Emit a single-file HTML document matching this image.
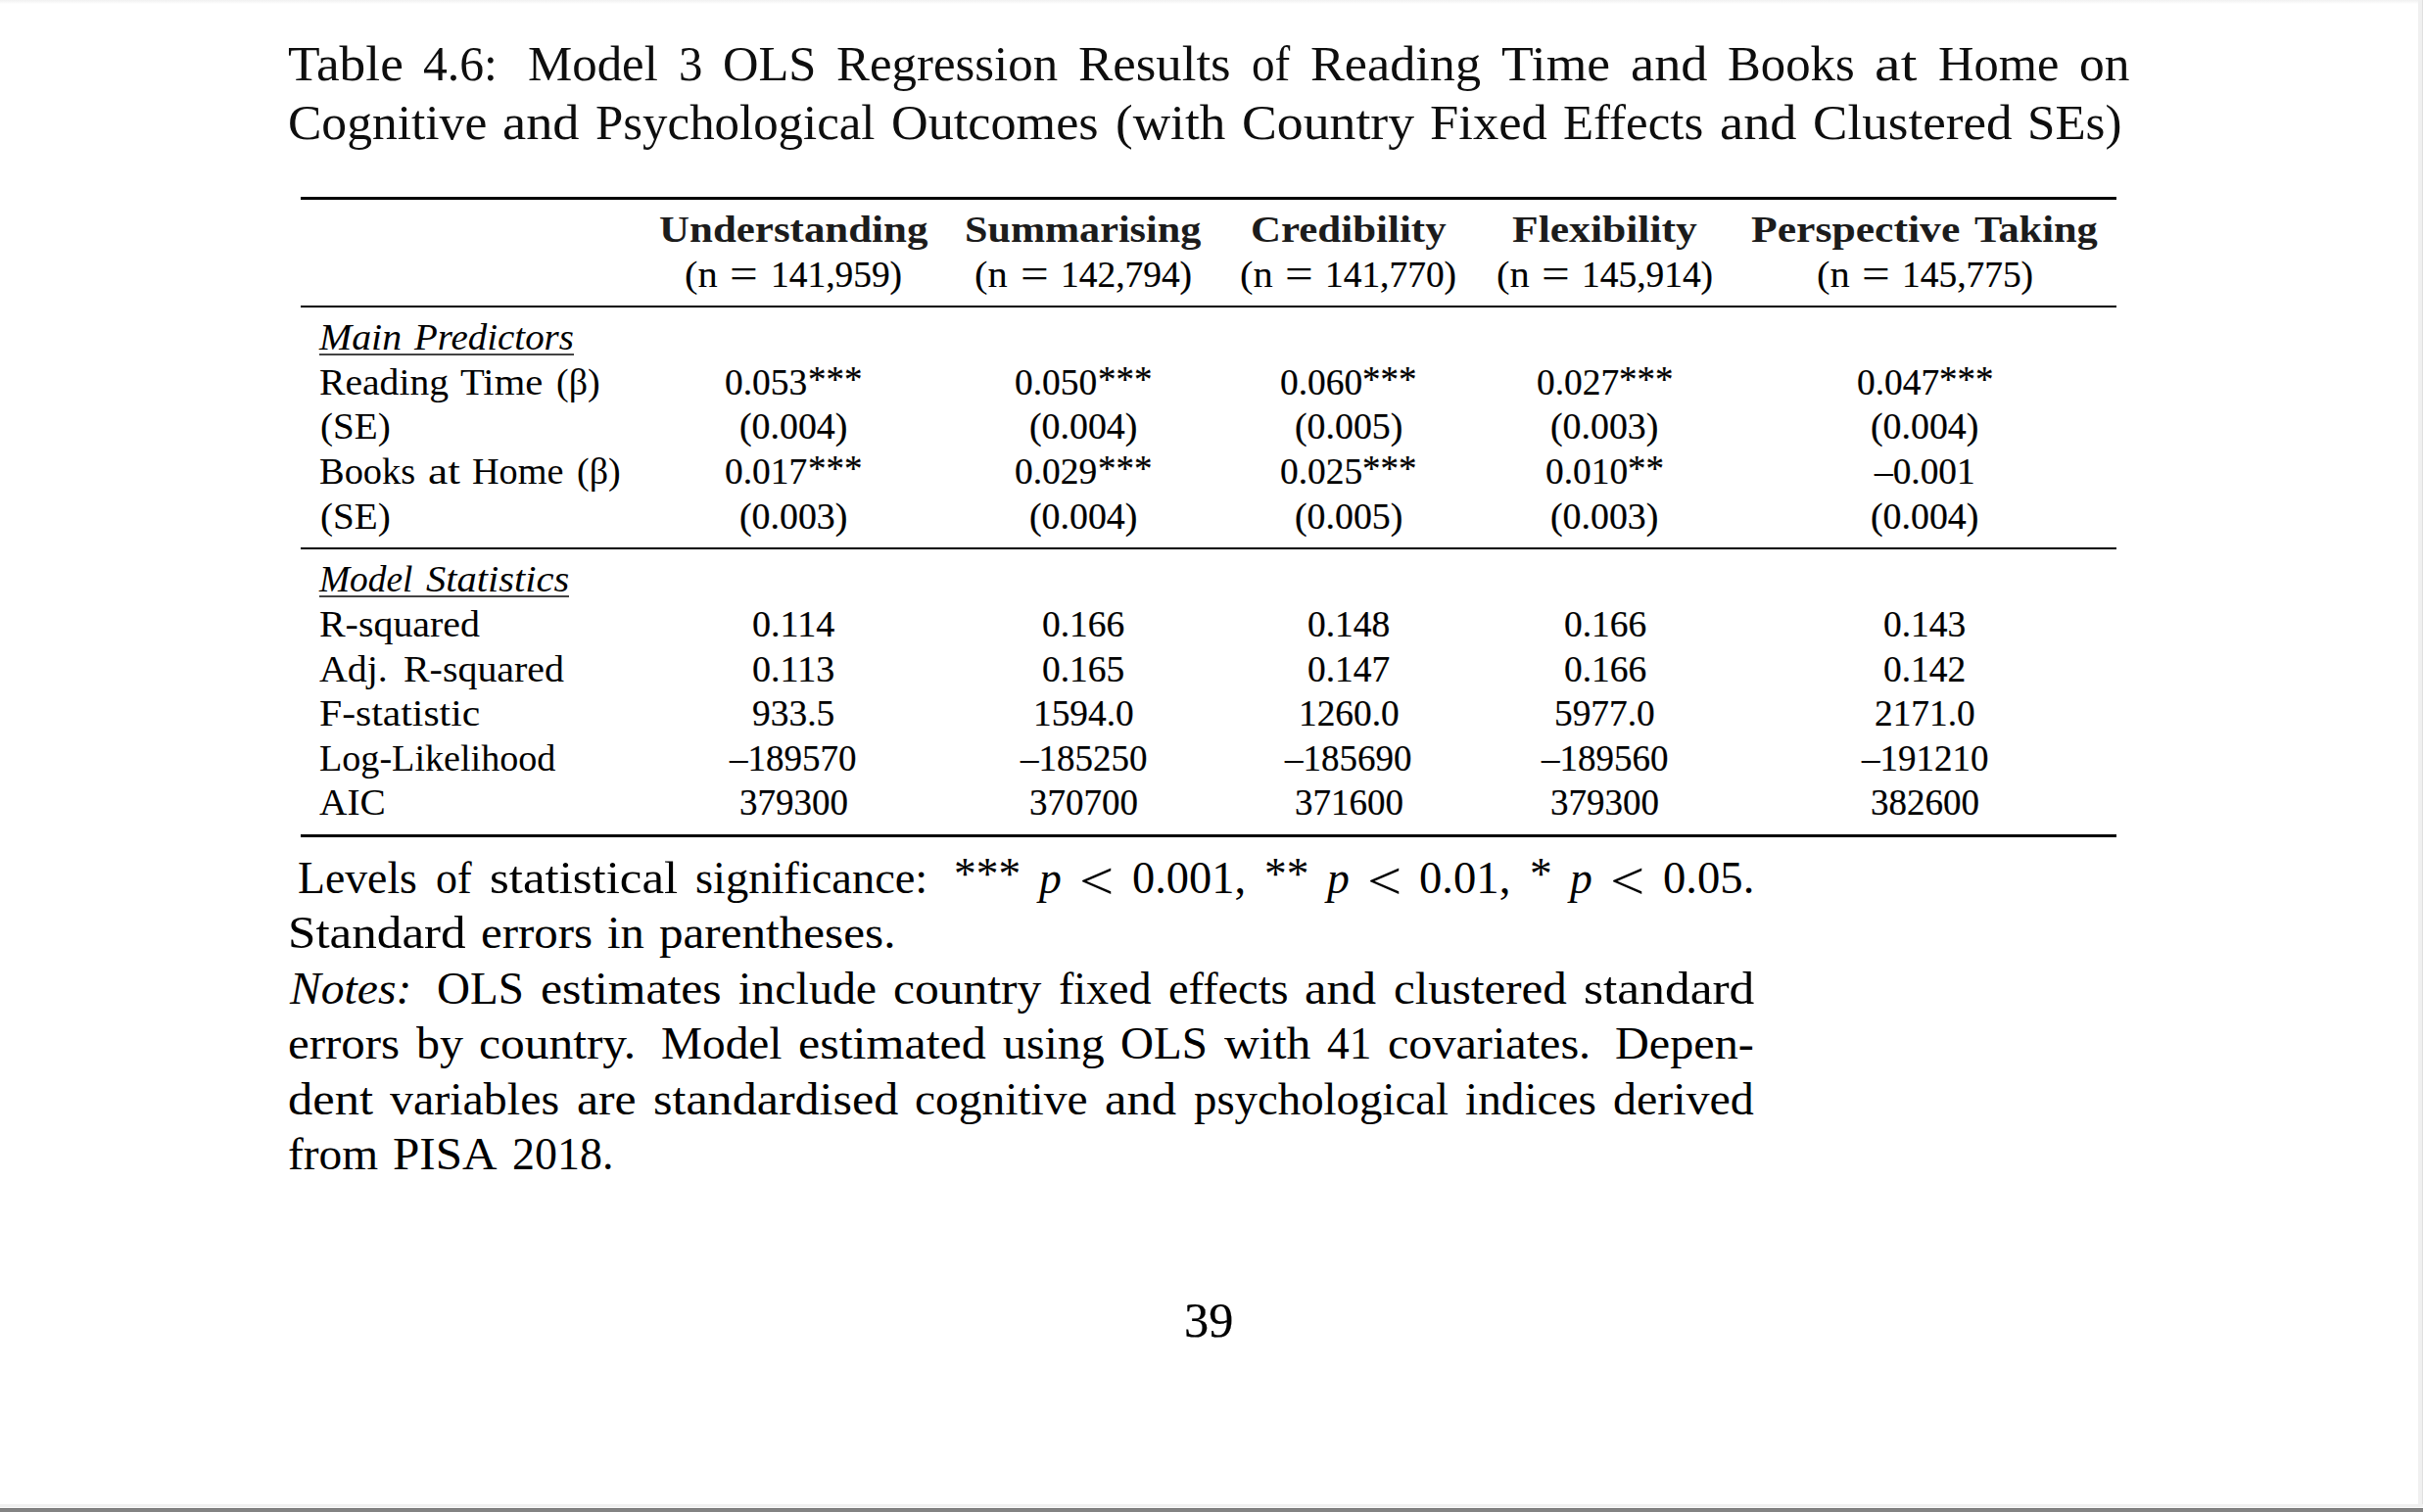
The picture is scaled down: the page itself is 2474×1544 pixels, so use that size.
<!DOCTYPE html>
<html lang="en"><head><meta charset="utf-8"><title>Table 4.6</title>
<style>
html,body{margin:0;padding:0;background:#fff}
body{width:2474px;height:1544px;position:relative;overflow:hidden;font-family:"Liberation Serif", serif;color:#000}
.w{position:absolute;white-space:pre;line-height:1;transform-origin:0 0;}
.b{font-weight:bold;color:#1c1c1c}.i{font-style:italic}.n{-webkit-text-stroke:0.2px #000}.cap .w{color:#0e0e0e}
.r{position:absolute;left:307px;width:1854px;background:#000}
.u{position:absolute;height:2px;background:#444}
.e{position:absolute}
</style></head><body>
<div class="e" style="left:0;top:0;width:2474px;height:4px;background:linear-gradient(#f1f1f1,#f6f6f6 40%,#fff)"></div>
<div class="e" style="left:2469px;top:0;width:4px;height:1540px;background:#f0f0f0"></div>
<div class="e" style="left:2473px;top:0;width:1px;height:1540px;background:#e0e0e0"></div>
<div class="e" style="left:0;top:1536px;width:2474px;height:3px;background:#f0f0f0"></div>
<div class="e" style="left:0;top:1539px;width:2474px;height:1px;background:#f8f8f8"></div>
<div class="e" style="left:0;top:1540px;width:2474px;height:4px;background:#838383"></div>
<div class="e" style="left:0;top:1540px;width:2474px;height:1px;background:#797979"></div>
<div class="r" style="top:201px;height:3px"></div>
<div class="r" style="top:312px;height:2px"></div>
<div class="r" style="top:559px;height:2px"></div>
<div class="r" style="top:852px;height:3px"></div>
<div class="u" style="left:326px;top:361px;width:260px"></div>
<div class="u" style="left:326px;top:608px;width:255px"></div>
<div class="cap"> <span class="w" style="left:293.8px;top:40.88px;font-size:49.81px;transform:scaleX(1.0725)">Table</span> <span class="w" style="left:432.48px;top:40.88px;font-size:49.81px;transform:scaleX(0.9971)">4.6:</span> <span class="w" style="left:539.14px;top:40.88px;font-size:49.81px;transform:scaleX(1.0211)">Model</span> <span class="w" style="left:692.72px;top:40.88px;font-size:49.81px;transform:scaleX(0.9792)">3</span> <span class="w" style="left:737.93px;top:40.88px;font-size:49.81px;transform:scaleX(1.0147)">OLS</span> <span class="w" style="left:854.21px;top:40.88px;font-size:49.81px;transform:scaleX(1.0218)">Regression</span> <span class="w" style="left:1101.15px;top:40.88px;font-size:49.81px;transform:scaleX(1.0614)">Results</span> <span class="w" style="left:1277.59px;top:40.88px;font-size:49.81px;transform:scaleX(0.9472)">of</span> <span class="w" style="left:1337.71px;top:40.88px;font-size:49.81px;transform:scaleX(1.0491)">Reading</span> <span class="w" style="left:1532.63px;top:40.88px;font-size:49.81px;transform:scaleX(1.0751)">Time</span> <span class="w" style="left:1664.5px;top:40.88px;font-size:49.81px;transform:scaleX(1.0929)">and</span> <span class="w" style="left:1763.91px;top:40.88px;font-size:49.81px;transform:scaleX(1.0184)">Books</span> <span class="w" style="left:1914.38px;top:40.88px;font-size:49.81px;transform:scaleX(1.2065)">at</span> <span class="w" style="left:1978.56px;top:40.88px;font-size:49.81px;transform:scaleX(1.0129)">Home</span> <span class="w" style="left:2122.61px;top:40.88px;font-size:49.81px;transform:scaleX(1.0339)">on</span></div>
<div class="cap"> <span class="w" style="left:293.8px;top:101.08px;font-size:49.81px;transform:scaleX(1.0348)">Cognitive</span> <span class="w" style="left:513.29px;top:101.08px;font-size:49.81px;transform:scaleX(1.0929)">and</span> <span class="w" style="left:608.11px;top:101.08px;font-size:49.81px;transform:scaleX(1.0218)">Psychological</span> <span class="w" style="left:909.83px;top:101.08px;font-size:49.81px;transform:scaleX(1.0481)">Outcomes</span> <span class="w" style="left:1139.25px;top:101.08px;font-size:49.81px;transform:scaleX(1.0680)">(with</span> <span class="w" style="left:1267.81px;top:101.08px;font-size:49.81px;transform:scaleX(1.0788)">Country</span> <span class="w" style="left:1460.2px;top:101.08px;font-size:49.81px;transform:scaleX(1.0570)">Fixed</span> <span class="w" style="left:1596.34px;top:101.08px;font-size:49.81px;transform:scaleX(1.0221)">Effects</span> <span class="w" style="left:1755.78px;top:101.08px;font-size:49.81px;transform:scaleX(1.0929)">and</span> <span class="w" style="left:1850.66px;top:101.08px;font-size:49.81px;transform:scaleX(1.0663)">Clustered</span> <span class="w" style="left:2070.4px;top:101.08px;font-size:49.81px;transform:scaleX(1.0257)">SEs)</span></div>
<div class="tab"> <span class="w b" style="left:672.66px;top:215.95px;font-size:37.77px;transform:scaleX(1.1369)">Understanding</span> <span class="w b" style="left:985.44px;top:215.95px;font-size:37.77px;transform:scaleX(1.1162)">Summarising</span> <span class="w b" style="left:1276.88px;top:215.95px;font-size:37.77px;transform:scaleX(1.1371)">Credibility</span> <span class="w b" style="left:1543.96px;top:215.95px;font-size:37.77px;transform:scaleX(1.1544)">Flexibility</span> <span class="w b" style="left:1788.47px;top:215.95px;font-size:37.77px;transform:scaleX(1.1560)">Perspective</span> <span class="w b" style="left:2015.96px;top:215.95px;font-size:37.77px;transform:scaleX(1.1229)">Taking</span></div>
<div class="tab"> <span class="w" style="left:699.32px;top:261.58px;font-size:37.77px;transform:scaleX(1.0739)">(n</span> <span class="w" style="left:745.43px;top:257.97px;font-size:43.43px;transform:scaleX(1.1741)">=</span> <span class="w n" style="left:786.54px;top:261.58px;font-size:37.77px;transform:scaleX(0.9909)">141,959)</span> <span class="w" style="left:995.49px;top:261.58px;font-size:37.77px;transform:scaleX(1.0739)">(n</span> <span class="w" style="left:1041.64px;top:257.97px;font-size:43.43px;transform:scaleX(1.1741)">=</span> <span class="w n" style="left:1082.72px;top:261.58px;font-size:37.77px;transform:scaleX(0.9909)">142,794)</span> <span class="w" style="left:1266.17px;top:261.58px;font-size:37.77px;transform:scaleX(1.0739)">(n</span> <span class="w" style="left:1312.28px;top:257.97px;font-size:43.43px;transform:scaleX(1.1741)">=</span> <span class="w n" style="left:1353.4px;top:261.58px;font-size:37.77px;transform:scaleX(0.9906)">141,770)</span> <span class="w" style="left:1527.86px;top:261.58px;font-size:37.77px;transform:scaleX(1.0739)">(n</span> <span class="w" style="left:1574.01px;top:257.97px;font-size:43.43px;transform:scaleX(1.1741)">=</span> <span class="w n" style="left:1615.09px;top:261.58px;font-size:37.77px;transform:scaleX(0.9909)">145,914)</span> <span class="w" style="left:1854.55px;top:261.58px;font-size:37.77px;transform:scaleX(1.0739)">(n</span> <span class="w" style="left:1900.66px;top:257.97px;font-size:43.43px;transform:scaleX(1.1741)">=</span> <span class="w n" style="left:1941.74px;top:261.58px;font-size:37.77px;transform:scaleX(0.9909)">145,775)</span></div>
<div class="tab"> <span class="w i" style="left:326.02px;top:326.14px;font-size:37.77px;transform:scaleX(1.0550)">Main</span> <span class="w i" style="left:423.35px;top:326.14px;font-size:37.77px;transform:scaleX(1.0308)">Predictors</span></div>
<div class="tab"> <span class="w" style="left:326.02px;top:371.78px;font-size:37.77px;transform:scaleX(1.0488)">Reading</span> <span class="w" style="left:470.33px;top:371.78px;font-size:37.77px;transform:scaleX(1.0748)">Time</span> <span class="w" style="left:568.06px;top:371.78px;font-size:37.77px;transform:scaleX(1.0049)">(β)</span> <span class="w n" style="left:740.3px;top:371.78px;font-size:37.77px;transform:scaleX(0.9912)">0.053</span><span class="w n" style="left:824.54px;top:368.57px;font-size:37.77px;transform:scaleX(0.9791)">***</span> <span class="w n" style="left:1036.49px;top:371.78px;font-size:37.77px;transform:scaleX(0.9912)">0.050</span><span class="w n" style="left:1120.73px;top:368.57px;font-size:37.77px;transform:scaleX(0.9791)">***</span> <span class="w n" style="left:1307.15px;top:371.78px;font-size:37.77px;transform:scaleX(0.9912)">0.060</span><span class="w n" style="left:1391.39px;top:368.57px;font-size:37.77px;transform:scaleX(0.9791)">***</span> <span class="w n" style="left:1568.85px;top:371.78px;font-size:37.77px;transform:scaleX(0.9912)">0.027</span><span class="w n" style="left:1653.09px;top:368.57px;font-size:37.77px;transform:scaleX(0.9791)">***</span> <span class="w n" style="left:1895.52px;top:371.78px;font-size:37.77px;transform:scaleX(0.9912)">0.047</span><span class="w n" style="left:1979.76px;top:368.57px;font-size:37.77px;transform:scaleX(0.9791)">***</span></div>
<div class="tab"> <span class="w" style="left:327.15px;top:417.42px;font-size:37.77px;transform:scaleX(1.0375)">(SE)</span> <span class="w n" style="left:754.8px;top:417.42px;font-size:37.77px;transform:scaleX(1.0020)">(0.004)</span> <span class="w n" style="left:1050.98px;top:417.42px;font-size:37.77px;transform:scaleX(1.0020)">(0.004)</span> <span class="w n" style="left:1321.63px;top:417.42px;font-size:37.77px;transform:scaleX(1.0020)">(0.005)</span> <span class="w n" style="left:1583.36px;top:417.42px;font-size:37.77px;transform:scaleX(1.0020)">(0.003)</span> <span class="w n" style="left:1910.02px;top:417.42px;font-size:37.77px;transform:scaleX(1.0020)">(0.004)</span></div>
<div class="tab"> <span class="w" style="left:326.02px;top:463.05px;font-size:37.77px;transform:scaleX(1.0181)">Books</span> <span class="w" style="left:436.67px;top:463.05px;font-size:37.77px;transform:scaleX(1.2057)">at</span> <span class="w" style="left:481.85px;top:463.05px;font-size:37.77px;transform:scaleX(1.0127)">Home</span> <span class="w" style="left:588.77px;top:463.05px;font-size:37.77px;transform:scaleX(1.0054)">(β)</span> <span class="w n" style="left:740.31px;top:463.05px;font-size:37.77px;transform:scaleX(0.9912)">0.017</span><span class="w n" style="left:824.54px;top:459.84px;font-size:37.77px;transform:scaleX(0.9791)">***</span> <span class="w n" style="left:1036.49px;top:463.05px;font-size:37.77px;transform:scaleX(0.9912)">0.029</span><span class="w n" style="left:1120.73px;top:459.84px;font-size:37.77px;transform:scaleX(0.9791)">***</span> <span class="w n" style="left:1307.15px;top:463.05px;font-size:37.77px;transform:scaleX(0.9912)">0.025</span><span class="w n" style="left:1391.39px;top:459.84px;font-size:37.77px;transform:scaleX(0.9791)">***</span> <span class="w n" style="left:1578.11px;top:463.05px;font-size:37.77px;transform:scaleX(0.9912)">0.010</span><span class="w n" style="left:1662.35px;top:459.84px;font-size:37.77px;transform:scaleX(0.9793)">**</span> <span class="w n" style="left:1914.01px;top:463.05px;font-size:37.77px;transform:scaleX(0.9891)">–0.001</span></div>
<div class="tab"> <span class="w" style="left:327.15px;top:508.69px;font-size:37.77px;transform:scaleX(1.0375)">(SE)</span> <span class="w n" style="left:754.8px;top:508.69px;font-size:37.77px;transform:scaleX(1.0020)">(0.003)</span> <span class="w n" style="left:1050.98px;top:508.69px;font-size:37.77px;transform:scaleX(1.0020)">(0.004)</span> <span class="w n" style="left:1321.63px;top:508.69px;font-size:37.77px;transform:scaleX(1.0020)">(0.005)</span> <span class="w n" style="left:1583.36px;top:508.69px;font-size:37.77px;transform:scaleX(1.0020)">(0.003)</span> <span class="w n" style="left:1910.02px;top:508.69px;font-size:37.77px;transform:scaleX(1.0020)">(0.004)</span></div>
<div class="tab"> <span class="w i" style="left:326.02px;top:573.25px;font-size:37.77px;transform:scaleX(0.9891)">Model</span> <span class="w i" style="left:434.68px;top:573.25px;font-size:37.77px;transform:scaleX(1.0730)">Statistics</span></div>
<div class="tab"> <span class="w" style="left:326.02px;top:618.89px;font-size:37.77px;transform:scaleX(1.0569)">R-squared</span> <span class="w n" style="left:768.05px;top:618.89px;font-size:37.77px;transform:scaleX(1.0079)">0.114</span> <span class="w n" style="left:1064.24px;top:618.89px;font-size:37.77px;transform:scaleX(0.9912)">0.166</span> <span class="w n" style="left:1334.91px;top:618.89px;font-size:37.77px;transform:scaleX(0.9908)">0.148</span> <span class="w n" style="left:1596.58px;top:618.89px;font-size:37.77px;transform:scaleX(0.9912)">0.166</span> <span class="w n" style="left:1923.26px;top:618.89px;font-size:37.77px;transform:scaleX(0.9912)">0.143</span></div>
<div class="tab"> <span class="w" style="left:326.02px;top:664.52px;font-size:37.77px;transform:scaleX(1.0567)">Adj.</span> <span class="w" style="left:412.29px;top:664.52px;font-size:37.77px;transform:scaleX(1.0569)">R-squared</span> <span class="w n" style="left:768.05px;top:664.52px;font-size:37.77px;transform:scaleX(1.0079)">0.113</span> <span class="w n" style="left:1064.21px;top:664.52px;font-size:37.77px;transform:scaleX(0.9912)">0.165</span> <span class="w n" style="left:1334.88px;top:664.52px;font-size:37.77px;transform:scaleX(0.9912)">0.147</span> <span class="w n" style="left:1596.59px;top:664.52px;font-size:37.77px;transform:scaleX(0.9912)">0.166</span> <span class="w n" style="left:1923.26px;top:664.52px;font-size:37.77px;transform:scaleX(0.9912)">0.142</span></div>
<div class="tab"> <span class="w" style="left:326.02px;top:710.16px;font-size:37.77px;transform:scaleX(1.1026)">F-statistic</span> <span class="w n" style="left:768.02px;top:710.16px;font-size:37.77px;transform:scaleX(0.9912)">933.5</span> <span class="w n" style="left:1054.97px;top:710.16px;font-size:37.77px;transform:scaleX(0.9891)">1594.0</span> <span class="w n" style="left:1325.65px;top:710.16px;font-size:37.77px;transform:scaleX(0.9891)">1260.0</span> <span class="w n" style="left:1587.35px;top:710.16px;font-size:37.77px;transform:scaleX(0.9891)">5977.0</span> <span class="w n" style="left:1914.01px;top:710.16px;font-size:37.77px;transform:scaleX(0.9891)">2171.0</span></div>
<div class="tab"> <span class="w" style="left:326.02px;top:755.8px;font-size:37.77px;transform:scaleX(1.0094)">Log-Likelihood</span> <span class="w n" style="left:745.45px;top:755.8px;font-size:37.77px;transform:scaleX(0.9792)">–189570</span> <span class="w n" style="left:1041.64px;top:755.8px;font-size:37.77px;transform:scaleX(0.9792)">–185250</span> <span class="w n" style="left:1312.3px;top:755.8px;font-size:37.77px;transform:scaleX(0.9792)">–185690</span> <span class="w n" style="left:1574px;top:755.8px;font-size:37.77px;transform:scaleX(0.9792)">–189560</span> <span class="w n" style="left:1900.67px;top:755.8px;font-size:37.77px;transform:scaleX(0.9792)">–191210</span></div>
<div class="tab"> <span class="w" style="left:326.02px;top:801.43px;font-size:37.77px;transform:scaleX(1.0419)">AIC</span> <span class="w n" style="left:754.67px;top:801.43px;font-size:37.77px;transform:scaleX(0.9793)">379300</span> <span class="w n" style="left:1050.87px;top:801.43px;font-size:37.77px;transform:scaleX(0.9793)">370700</span> <span class="w n" style="left:1321.54px;top:801.43px;font-size:37.77px;transform:scaleX(0.9793)">371600</span> <span class="w n" style="left:1583.23px;top:801.43px;font-size:37.77px;transform:scaleX(0.9793)">379300</span> <span class="w n" style="left:1909.91px;top:801.43px;font-size:37.77px;transform:scaleX(0.9793)">382600</span></div>
<div class="note"> <span class="w" style="left:304.16px;top:873.78px;font-size:45.45px;transform:scaleX(1.0064)">Levels</span> <span class="w" style="left:444.58px;top:873.78px;font-size:45.45px;transform:scaleX(0.9658)">of</span> <span class="w" style="left:499.62px;top:873.78px;font-size:45.45px;transform:scaleX(1.1195)">statistical</span> <span class="w" style="left:710.22px;top:873.78px;font-size:45.45px;transform:scaleX(1.0221)">significance:</span> <span class="w" style="left:974.41px;top:869.92px;font-size:45.45px;transform:scaleX(0.9989)">***</span> <span class="w i" style="left:1060.97px;top:873.78px;font-size:45.45px;transform:scaleX(1.0051)">p</span> <span class="w" style="left:1102.01px;top:872.87px;font-size:54.09px;transform:scaleX(1.1574)">&lt;</span> <span class="w" style="left:1155.53px;top:873.78px;font-size:45.45px;transform:scaleX(1.0211)">0.001,</span> <span class="w" style="left:1290.85px;top:869.92px;font-size:45.45px;transform:scaleX(0.9989)">**</span> <span class="w i" style="left:1354.72px;top:873.78px;font-size:45.45px;transform:scaleX(1.0051)">p</span> <span class="w" style="left:1395.76px;top:872.87px;font-size:54.09px;transform:scaleX(1.1574)">&lt;</span> <span class="w" style="left:1449.27px;top:873.78px;font-size:45.45px;transform:scaleX(1.0266)">0.01,</span> <span class="w" style="left:1561.9px;top:869.92px;font-size:45.45px;transform:scaleX(0.9989)">*</span> <span class="w i" style="left:1603.08px;top:873.78px;font-size:45.45px;transform:scaleX(1.0051)">p</span> <span class="w" style="left:1644.11px;top:872.87px;font-size:54.09px;transform:scaleX(1.1574)">&lt;</span> <span class="w" style="left:1697.63px;top:873.78px;font-size:45.45px;transform:scaleX(1.0266)">0.05.</span></div>
<div class="note"> <span class="w" style="left:293.8px;top:930.24px;font-size:45.45px;transform:scaleX(1.1247)">Standard</span> <span class="w" style="left:490.6px;top:930.24px;font-size:45.45px;transform:scaleX(1.0767)">errors</span> <span class="w" style="left:619.81px;top:930.24px;font-size:45.45px;transform:scaleX(1.0702)">in</span> <span class="w" style="left:672.79px;top:930.24px;font-size:45.45px;transform:scaleX(1.0811)">parentheses.</span></div>
<div class="note"> <span class="w i" style="left:296.3px;top:986.69px;font-size:45.45px;transform:scaleX(1.0483)">Notes:</span> <span class="w" style="left:446.06px;top:986.69px;font-size:45.45px;transform:scaleX(1.0354)">OLS</span> <span class="w" style="left:552.1px;top:986.69px;font-size:45.45px;transform:scaleX(1.0915)">estimates</span> <span class="w" style="left:753.87px;top:986.69px;font-size:45.45px;transform:scaleX(1.0554)">include</span> <span class="w" style="left:912.23px;top:986.69px;font-size:45.45px;transform:scaleX(1.0907)">country</span> <span class="w" style="left:1080.79px;top:986.69px;font-size:45.45px;transform:scaleX(1.0127)">fixed</span> <span class="w" style="left:1192.51px;top:986.69px;font-size:45.45px;transform:scaleX(1.0190)">effects</span> <span class="w" style="left:1332.24px;top:986.69px;font-size:45.45px;transform:scaleX(1.1146)">and</span> <span class="w" style="left:1422.52px;top:986.69px;font-size:45.45px;transform:scaleX(1.0784)">clustered</span> <span class="w" style="left:1616.56px;top:986.69px;font-size:45.45px;transform:scaleX(1.1327)">standard</span></div>
<div class="note"> <span class="w" style="left:293.8px;top:1043.15px;font-size:45.45px;transform:scaleX(1.0767)">errors</span> <span class="w" style="left:424.64px;top:1043.15px;font-size:45.45px;transform:scaleX(1.0552)">by</span> <span class="w" style="left:489.34px;top:1043.15px;font-size:45.45px;transform:scaleX(1.0885)">country.</span> <span class="w" style="left:674.69px;top:1043.15px;font-size:45.45px;transform:scaleX(1.0411)">Model</span> <span class="w" style="left:815px;top:1043.15px;font-size:45.45px;transform:scaleX(1.1020)">estimated</span> <span class="w" style="left:1023.63px;top:1043.15px;font-size:45.45px;transform:scaleX(1.0525)">using</span> <span class="w" style="left:1144.06px;top:1043.15px;font-size:45.45px;transform:scaleX(1.0354)">OLS</span> <span class="w" style="left:1249.69px;top:1043.15px;font-size:45.45px;transform:scaleX(1.0925)">with</span> <span class="w" style="left:1354.73px;top:1043.15px;font-size:45.45px;transform:scaleX(0.9989)">41</span> <span class="w" style="left:1416.87px;top:1043.15px;font-size:45.45px;transform:scaleX(1.0594)">covariates.</span> <span class="w" style="left:1649.12px;top:1043.15px;font-size:45.45px;transform:scaleX(1.0604)">Depen-</span></div>
<div class="note"> <span class="w" style="left:293.8px;top:1099.61px;font-size:45.45px;transform:scaleX(1.1118)">dent</span> <span class="w" style="left:398.12px;top:1099.61px;font-size:45.45px;transform:scaleX(1.0555)">variables</span> <span class="w" style="left:588.58px;top:1099.61px;font-size:45.45px;transform:scaleX(1.0932)">are</span> <span class="w" style="left:666.61px;top:1099.61px;font-size:45.45px;transform:scaleX(1.1017)">standardised</span> <span class="w" style="left:934.21px;top:1099.61px;font-size:45.45px;transform:scaleX(1.0438)">cognitive</span> <span class="w" style="left:1128.04px;top:1099.61px;font-size:45.45px;transform:scaleX(1.1146)">and</span> <span class="w" style="left:1218.5px;top:1099.61px;font-size:45.45px;transform:scaleX(1.0302)">psychological</span> <span class="w" style="left:1495.84px;top:1099.61px;font-size:45.45px;transform:scaleX(1.0403)">indices</span> <span class="w" style="left:1647.07px;top:1099.61px;font-size:45.45px;transform:scaleX(1.0557)">derived</span></div>
<div class="note"> <span class="w" style="left:293.8px;top:1156.06px;font-size:45.45px;transform:scaleX(1.0434)">from</span> <span class="w" style="left:401.08px;top:1156.06px;font-size:45.45px;transform:scaleX(1.0816)">PISA</span> <span class="w" style="left:522.77px;top:1156.06px;font-size:45.45px;transform:scaleX(1.0112)">2018.</span></div>
<div class="pg"> <span class="w n" style="left:1208.57px;top:1323.89px;font-size:49.81px;transform:scaleX(1.0096)">39</span></div>
</body></html>
